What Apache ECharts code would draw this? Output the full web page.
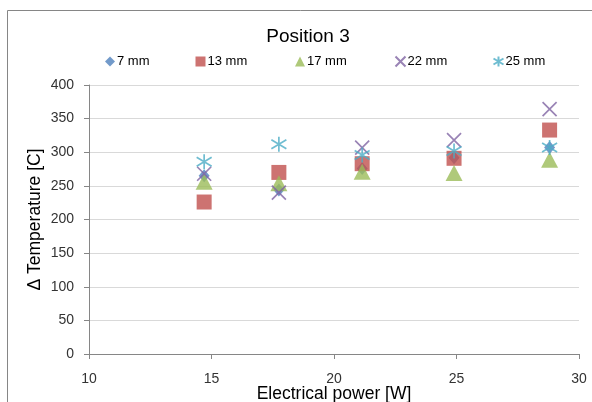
<!DOCTYPE html>
<html>
<head>
<meta charset="utf-8">
<script src="https://cdn.jsdelivr.net/npm/echarts@6/dist/echarts.min.js"></script>
<style>
  html, body { margin: 0; padding: 0; background: #fff; }
  #chart { width: 592px; height: 402px; }
</style>
</head>
<body>
<div id="chart"></div>
<script>
// Electrical power levels [W]
const powerW = [14.7, 17.75, 21.15, 24.9, 28.8];

// Temperature rise [C] per distance
const dT_7mm  = [265, 244, 276, 292, 307];
const dT_13mm = [226, 270, 283, 291, 333];
const dT_17mm = [256, 254, 271, 269, 289];
const dT_22mm = [268, 240, 307, 318, 364];
const dT_25mm = [286, 312, 296, 302, 307];

const seriesNames = ['7 mm', '13 mm', '17 mm', '22 mm', '25 mm'];
const seriesData = [dT_7mm, dT_13mm, dT_17mm, dT_22mm, dT_25mm];

const xTicks = { min: 10, max: 30, step: 5 };
const yTicks = { min: 0, max: 400, step: 50 };

const FONT = '"Liberation Sans", Arial, sans-serif';
const COLORS = ['#4F81BD', '#C0504D', '#9BBB59', '#8064A2', '#4BACC6'];

const SYMBOL_X = 'path://M0,0L10,10M10,0L0,10';
const SYMBOL_STAR = 'path://M5,0L5,10M0,2L10,8M0,8L10,2';

const markerStyles = [
  { symbol: 'diamond', symbolSize: [11, 13], itemStyle: { color: COLORS[0] } },
  { symbol: 'rect', symbolSize: 15, itemStyle: { color: COLORS[1] } },
  { symbol: 'triangle', symbolSize: [17, 16], itemStyle: { color: COLORS[2] } },
  { symbol: SYMBOL_X, symbolSize: 14, itemStyle: { color: 'rgba(0,0,0,0)', borderColor: COLORS[3], borderWidth: 1.7 } },
  { symbol: SYMBOL_STAR, symbolSize: 15, itemStyle: { color: 'rgba(0,0,0,0)', borderColor: COLORS[4], borderWidth: 1.7 } }
];

const legendIconCenters = [110, 200.5, 300, 399.5, 497.5];

const chart = echarts.init(document.getElementById('chart'), null, { renderer: 'canvas' });

const option = {
  animation: false,
  backgroundColor: '#fff',
  color: COLORS,
  title: {
    text: 'Position 3',
    left: 303,
    textAlign: 'center',
    top: 22,
    textStyle: { fontFamily: FONT, fontSize: 19, fontWeight: 'normal', color: '#000' }
  },
  legend: seriesNames.map((name, i) => ({
    data: [name],
    left: legendIconCenters[i] - 5,
    top: 55,
    padding: 0,
    itemWidth: 10,
    itemHeight: 10,
    itemGap: 0,
    textStyle: { fontFamily: FONT, fontSize: 13, color: '#000', padding: [0, 0, 0, -3] }
  })),
  grid: { left: 89, right: 13, top: 85, bottom: 48, containLabel: false, outerBoundsMode: 'none' },
  xAxis: {
    type: 'value',
    min: xTicks.min,
    max: xTicks.max,
    interval: xTicks.step,
    name: 'Electrical power [W]',
    nameLocation: 'middle',
    nameGap: 31,
    nameMoveOverlap: false,
    nameTextStyle: { fontFamily: FONT, fontSize: 17.5, color: '#000' },
    axisLine: { show: true, lineStyle: { color: '#868686', width: 1 } },
    axisTick: { show: true, length: 5, lineStyle: { color: '#868686' } },
    axisLabel: { fontFamily: FONT, fontSize: 14, color: '#333', margin: 18 },
    splitLine: { show: false }
  },
  yAxis: {
    type: 'value',
    min: yTicks.min,
    max: yTicks.max,
    interval: yTicks.step,
    name: 'Δ Temperature [C]',
    nameLocation: 'middle',
    nameGap: 45,
    nameMoveOverlap: false,
    nameTextStyle: { fontFamily: FONT, fontSize: 17.5, color: '#000' },
    axisLine: { show: true, lineStyle: { color: '#868686', width: 1 } },
    axisTick: { show: true, length: 5, lineStyle: { color: '#868686' } },
    axisLabel: { fontFamily: FONT, fontSize: 14, color: '#333', margin: 15 },
    splitLine: { show: true, lineStyle: { color: '#d9d9d9', width: 1 } }
  },
  series: seriesNames.map((name, i) => ({
    name,
    type: 'scatter',
    data: powerW.map((p, j) => [p, seriesData[i][j]]),
    symbol: markerStyles[i].symbol,
    symbolSize: markerStyles[i].symbolSize,
    itemStyle: markerStyles[i].itemStyle,
    z: 2 + i
  })),
  graphic: [{
    type: 'rect',
    shape: { x: 7.5, y: 10.5, width: 620, height: 420 },
    style: { fill: 'none', stroke: '#868686', lineWidth: 1 },
    silent: true,
    z: 100
  }]
};

chart.setOption(option);
</script>
</body>
</html>
